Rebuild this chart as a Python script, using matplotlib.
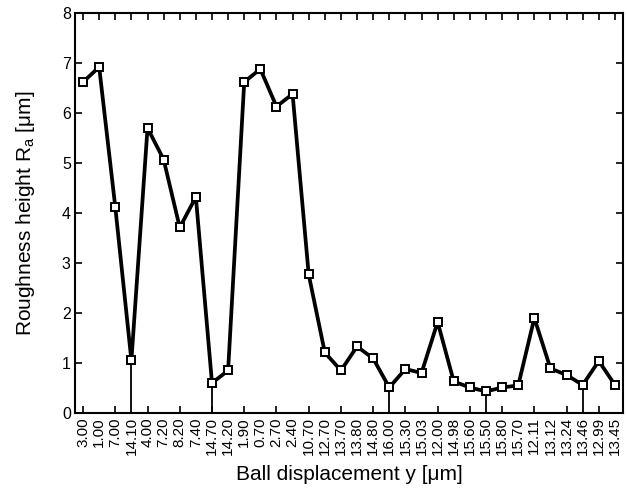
import matplotlib
matplotlib.use('Agg')
import matplotlib.pyplot as plt
import numpy as np

plt.rcParams['font.family'] = ['Liberation Sans', 'DejaVu Sans']

# ball displacement labels (categories, in measured order)
displacement = ['3.00', '1.00', '7.00', '14.10', '4.00', '7.20', '8.20', '7.40',
                '14.70', '14.20', '1.90', '0.70', '2.70', '2.40', '10.70', '12.70',
                '13.70', '13.80', '14.80', '16.00', '15.30', '15.03', '12.00', '14.98',
                '15.60', '15.50', '15.80', '15.70', '12.11', '13.12', '13.24', '13.46',
                '12.99', '13.45']

# roughness height Ra [um]
roughness = [6.62, 6.92, 4.12, 1.05, 5.70, 5.07, 3.71, 4.32,
             0.60, 0.85, 6.62, 6.88, 6.13, 6.38, 2.77, 1.21,
             0.85, 1.33, 1.09, 0.51, 0.88, 0.80, 1.82, 0.63,
             0.51, 0.43, 0.51, 0.55, 1.90, 0.89, 0.76, 0.56,
             1.04, 0.56]

# points where a drop line to zero is drawn
drop_idx = [3, 8, 19, 25, 31]

fig = plt.figure(figsize=(6.27, 4.93), dpi=100)
ax = fig.add_axes([0.1196, 0.1623, 0.874, 0.8113])

x = np.arange(len(displacement))
for i in drop_idx:
    ax.plot([x[i], x[i]], [0, roughness[i]], color='black', lw=1.3, zorder=1)

ax.plot(x, roughness, color='black', lw=2.7, marker='s', markersize=6,
        markerfacecolor='white', markeredgecolor='black', markeredgewidth=1.4,
        zorder=3)

ax.set_xlim(-0.5, len(displacement) - 0.5)
ax.set_ylim(0, 8)
ax.set_xticks(x)
ax.set_xticklabels(displacement, rotation=90, fontsize=11)
ax.set_yticks(range(0, 9))
ax.tick_params(axis='y', labelsize=11.5)

# only every second x tick gets a tick mark
for k, t in enumerate(ax.xaxis.get_major_ticks()):
    if k % 2 == 1:
        t.tick1line.set_visible(False)
        t.tick2line.set_visible(False)

ax.tick_params(direction='in', top=True, right=True, length=5, width=1.2, pad=3)
for s in ax.spines.values():
    s.set_linewidth(1.5)

ax.set_xlabel('Ball displacement y [μm]', fontsize=15, labelpad=7)
ax.set_ylabel('Roughness height R$_\\mathregular{a}$ [μm]', fontsize=15, labelpad=18)

fig.savefig('out.png', dpi=100)
